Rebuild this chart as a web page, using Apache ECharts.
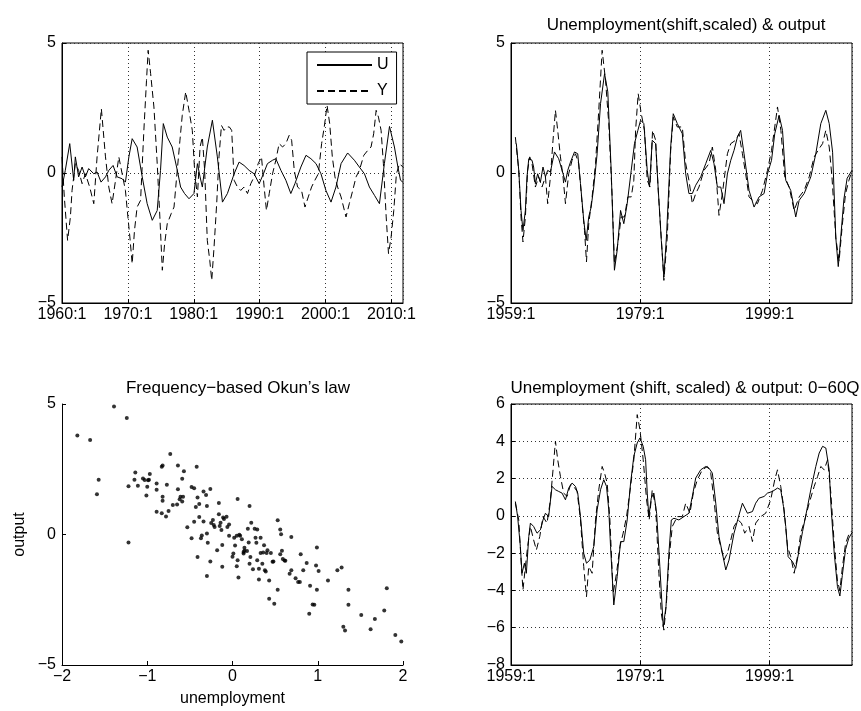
<!DOCTYPE html>
<html><head><meta charset="utf-8">
<script src="https://cdn.jsdelivr.net/npm/echarts@6/dist/echarts.min.js"></script>
<style>html,body{margin:0;padding:0;background:#fff}#c{width:861px;height:711px}</style>
</head><body><div id="c"></div>
<script>
// ---------- data (quarter index, value) ----------
// Top-left: quarter 0 = 1960:1
const tlTicks = ['1960:1','1970:1','1980:1','1990:1','2000:1','2010:1'];
const tlU = [[0,-0.54],[2,0.10],[4.7,1.13],[7.1,-0.28],[8.1,0.62],[10.1,-0.15],[12.2,0.23],[14.2,-0.15],[16.2,0.17],[19.3,-0.03],[21.3,0.04],[23.7,-0.35],[26.4,-0.15],[28.4,0.10],[31,0.29],[33.5,-0.15],[36.5,-0.22],[38.5,-0.35],[40.6,0.62],[42.6,1.32],[45.6,1.00],[48.7,-0.15],[51.7,-1.18],[54.8,-1.82],[57.8,-1.44],[59.8,0.10],[61.5,1.90],[63.9,1.38],[66.9,1.00],[70,0.10],[72,-0.54],[74.4,-0.79],[77.1,-0.99],[80.1,-0.79],[82.2,0.36],[83.8,-0.15],[85.2,-0.54],[88.2,1.00],[91.3,2.03],[94.3,0.62],[97.4,-1.12],[100.4,-0.79],[104.5,-0.03],[107.5,0.42],[110.5,0.29],[113.6,0.10],[116.6,-0.03],[119.7,-0.41],[122.3,-0.03],[124.7,0.36],[127.8,0.49],[129.8,0.55],[132.9,0.10],[135.9,-0.28],[138.9,-0.79],[141.4,-0.41],[145,0.23],[148.1,0.68],[151.1,0.55],[154.2,0.36],[157.2,-0.03],[160.2,-0.67],[163.3,-1.12],[166.3,-0.54],[169.4,0.36],[173.4,0.77],[177.5,0.49],[180.5,0.23],[183.6,-0.03],[186.6,-0.54],[189.7,-0.86],[192.7,-1.18],[195.7,0.36],[198.8,1.79],[201.8,1.00],[203.9,0.23],[205.5,-0.28],[206.9,-0.35]];
const tlY = [[0,0.62],[1.4,-0.92],[3.4,-2.59],[5.1,-1.69],[6.1,-0.67],[8.1,0.36],[10.1,0.10],[12.2,-0.41],[14.2,-0.03],[16.8,-0.54],[19.3,-1.18],[21.3,0.62],[23.9,2.47],[26.4,0.62],[28.4,-0.54],[30.4,-1.18],[32.5,-0.28],[34.5,0.62],[36.5,-0.03],[38.5,-0.67],[40,-1.69],[41.2,-2.46],[42.6,-3.49],[44,-2.21],[45.6,-1.31],[47.7,-1.05],[49.7,1.64],[51.3,3.56],[52.3,4.72],[53.8,3.82],[55.8,2.54],[57.8,0.36],[59.4,-1.69],[60.9,-3.74],[62.3,-2.72],[63.9,-1.95],[66.3,-1.56],[68,-1.31],[69.6,-0.15],[71.6,1.26],[73,2.22],[75.1,3.12],[77.1,2.41],[79.1,1.64],[80.5,0.10],[82.2,-0.92],[83.8,1.00],[85.2,1.38],[86.6,0.10],[88.2,-2.59],[89.7,-3.36],[90.9,-4.13],[92.3,-2.85],[93.9,-1.18],[95.3,0.62],[96.8,1.83],[98.4,1.64],[100,1.77],[101.6,1.77],[103,1.64],[104.5,-0.28],[106.5,-0.54],[108.5,-0.67],[110.5,-0.54],[112.6,-0.79],[114.6,-0.41],[116.6,-0.15],[119.1,0.36],[121.1,0.62],[122.7,-0.54],[124.1,-1.44],[125.8,-0.79],[127.8,-0.03],[129.8,0.49],[131.8,1.13],[133.9,1.00],[135.9,1.13],[137.9,1.45],[139.4,1.26],[141,0.10],[143,-0.54],[145.4,-0.67],[147.5,-1.31],[149.5,-0.92],[151.5,-0.54],[153.5,-0.28],[155.6,-0.03],[157.6,1.13],[159.2,1.77],[160.9,2.60],[162.5,1.90],[164.1,0.62],[165.7,-0.15],[167.3,-0.54],[169.4,-0.92],[172.4,-1.69],[174.4,-1.18],[176.5,-0.67],[178.5,-0.15],[180.5,0.10],[183.2,0.68],[185.6,0.87],[187.6,1.00],[189.2,1.51],[190.7,2.41],[192.1,2.15],[193.7,1.64],[195.1,0.36],[196.8,-1.69],[198.2,-3.10],[199.8,-2.46],[201.4,-1.44],[203,-0.03],[204.9,0.36],[206.9,0.23]];

// Top-right: quarter 0 = 1959:1
const rTicks = ['1959:1','1979:1','1999:1'];
const trU = [[3.3,1.13],[4.8,0.10],[6.2,-1.44],[7.4,-2.21],[8.9,-1.44],[9.9,-0.15],[11,0.55],[13,0.49],[14,0.23],[15.1,-0.41],[16.5,-0.03],[18.2,-0.35],[19.8,0.23],[21.3,-0.15],[22.7,0.10],[24.4,0.04],[26.9,0.81],[29.5,0.55],[31.6,0.10],[33.7,-0.35],[35.1,0.10],[36.8,0.42],[39.3,0.81],[41.3,0.74],[43,-0.41],[45,-1.82],[46.5,-2.59],[48.1,-1.69],[49.6,-1.31],[51.2,-0.54],[53.3,0.74],[55.4,2.67],[57.9,3.82],[59.9,3.12],[62,0.10],[64,-3.74],[65.7,-2.97],[67.8,-1.44],[69.8,-1.95],[71.9,-1.18],[74.4,0.10],[76.4,1.13],[78.5,1.64],[80.2,2.03],[82.2,1.90],[84.3,0.10],[85.7,-0.54],[87.4,1.26],[89.5,1.13],[90.9,-0.41],[93,-2.59],[94.6,-4.00],[96.3,-2.33],[98.8,1.00],[100.4,2.28],[102.9,1.90],[106,1.51],[108.1,-0.03],[110.1,-0.79],[112.2,-0.79],[114.3,-0.47],[117.4,-0.15],[120.5,0.36],[123.6,0.87],[125.6,0.36],[127.7,-0.54],[129.8,-0.54],[131.8,-1.18],[133.9,-0.03],[136,0.49],[138,0.87],[140.1,1.38],[142.1,1.64],[144.2,0.74],[147.3,-0.67],[150.4,-1.31],[153.5,-0.92],[156.6,-0.79],[158.7,-0.03],[161.2,0.49],[163.2,1.51],[165.9,2.22],[168,1.64],[170,-0.28],[173.1,-0.67],[176.2,-1.69],[178.3,-1.05],[181.4,-0.79],[185.5,-0.15],[188.6,0.74],[191.7,1.90],[194.8,2.41],[196.9,1.90],[199,0.80],[201,-2.5],[202.5,-3.6],[204,-2.5],[206,-1.0],[208,-0.2],[210,0.0],[211,0.1]];
const trY = [[2.7,1.38],[4.8,0.10],[6.2,-1.69],[7.4,-2.65],[8.9,-1.69],[10.3,0.10],[11.6,0.62],[13,0.36],[15.1,-0.54],[17.1,-0.15],[19.2,-0.54],[21.3,-0.15],[22.7,-1.18],[24.4,-0.15],[26,1.26],[27.5,2.41],[28.9,1.64],[30.6,0.62],[32.2,-0.15],[33.7,-1.18],[35.7,-0.03],[37.8,0.49],[39.9,0.74],[41.9,0.36],[44,-1.18],[45.5,-2.21],[46.7,-3.42],[48.1,-1.95],[50.2,-0.92],[52.3,0.36],[54.3,2.41],[56.4,4.72],[58.5,3.56],[60.5,1.90],[62.6,-0.92],[64,-3.49],[66.1,-2.72],[68.2,-1.69],[70.2,-1.69],[72.3,-0.92],[74.4,-0.92],[76,-0.28],[77.1,1.64],[78.7,3.05],[80.6,2.28],[82.6,1.64],[84.3,-0.28],[86,-0.54],[87.6,1.64],[89.5,1.26],[91.1,-0.67],[93.2,-2.72],[94.6,-4.13],[96.7,-2.46],[98.8,0.87],[100.4,2.15],[102.9,1.77],[106,1.77],[108.1,0.36],[110.1,-0.28],[112.2,-1.18],[114.3,-0.79],[116.3,-0.54],[119.4,0.10],[122.5,0.36],[124.6,1.00],[126.7,0.10],[128.7,-1.63],[130.8,-0.79],[133.9,0.74],[136,1.13],[139,1.26],[141.1,1.51],[143.2,0.74],[145.2,-0.03],[147.3,-0.92],[149.4,-1.05],[152.5,-1.18],[155.6,-0.67],[158.7,0.10],[161.2,0.87],[163.2,1.77],[164.9,2.54],[167,1.64],[169.4,-0.15],[172.1,-0.54],[175.2,-1.44],[178.3,-0.92],[181.4,-0.67],[184.5,-0.15],[187.6,0.62],[190.7,0.94],[192.8,1.13],[194.8,1.64],[196.9,1.00],[198.6,-0.15],[201,-2.5],[203,-3.4],[205,-2.0],[207,-0.8],[209,-0.3],[211,0.1]];

// Bottom-right: 0-60Q band
const brU = [[2.7,0.77],[4.1,-0.04],[5.8,-1.65],[6.8,-3.08],[8.3,-2.54],[9.5,-3.08],[11,-1.11],[12,-0.39],[14,-0.57],[16.1,-0.93],[18.2,-0.75],[19.8,-0.22],[21.3,0.14],[23.3,-0.04],[25.4,1.58],[27.5,1.40],[29.5,1.31],[31.6,1.22],[33.7,0.86],[35.7,1.49],[37.8,1.76],[39.9,1.58],[41.3,1.22],[43,-0.04],[45,-2.01],[46.7,-2.54],[48.8,-2.37],[51.2,-1.65],[53.3,0.32],[55.4,1.40],[57.4,1.94],[59.1,1.58],[60.5,0.32],[61.6,-1.65],[63.6,-4.78],[65.7,-3.26],[67.8,-1.38],[69.8,-1.38],[71.9,-0.22],[74,1.76],[76,3.19],[78.1,3.91],[79.8,4.18],[81.8,3.73],[83.3,3.01],[84.3,1.22],[85.3,-0.04],[86.8,0.95],[88.4,1.22],[90.1,0.14],[92.1,-2.72],[94.2,-5.95],[95.9,-4.87],[97.7,-2.01],[99.2,-0.22],[100.8,-0.13],[103.9,-0.22],[107,-0.04],[110.1,0.14],[112.2,1.04],[114.3,2.03],[117.4,2.47],[120.5,2.65],[122.5,2.56],[124.6,2.29],[126.7,0.68],[128.7,-1.11],[130.8,-2.01],[132.9,-2.90],[134.9,-2.37],[138,-0.93],[141.1,0.05],[143.2,0.68],[146.3,0.14],[149.4,0.23],[151.4,0.68],[153.5,0.95],[156.6,1.04],[158.7,1.22],[161.8,1.31],[164.9,1.49],[166.9,1.40],[168.6,0.50],[170,-0.57],[171.5,-2.19],[174.2,-2.46],[176.2,-2.81],[178.3,-1.83],[180.4,-0.84],[183.5,0.50],[185.5,1.40],[188.6,2.65],[190.7,3.37],[192.8,3.73],[194.8,3.64],[196.9,2.47],[197.9,0.68],[200,-2.0],[202,-3.8],[203.5,-4.3],[205,-3.2],[207,-1.8],[209,-1.2],[211,-0.9]];
const brY = [[2.7,0.68],[4.8,-0.22],[6.2,-2.37],[7.4,-3.98],[8.9,-2.72],[10.3,-1.65],[12,-0.57],[14,-1.29],[15.7,-1.83],[17.8,-1.11],[19.8,-0.04],[22.3,-0.39],[24.4,0.86],[26,2.47],[27.5,4.00],[28.9,3.01],[30.6,2.11],[32.6,1.22],[34.7,1.04],[36.8,1.67],[38.8,1.58],[40.9,1.31],[43,-0.22],[45,-2.72],[46.7,-4.34],[48.1,-2.72],[50.2,-3.08],[52.3,-0.22],[54.3,1.40],[56.4,2.65],[57.9,2.29],[59.5,1.76],[61.2,-0.22],[63.2,-4.16],[65.3,-3.08],[67.4,-1.65],[69.4,-0.93],[71.5,-0.04],[74,1.58],[76,3.01],[78.1,5.43],[79.8,4.62],[81.8,3.01],[83.9,0.86],[85.5,-0.22],[87.4,1.40],[89.5,0.50],[91.5,-3.08],[93,-5.23],[94.6,-6.13],[96.3,-4.52],[97.7,-2.37],[99.8,-0.57],[102.9,-0.04],[106,-0.04],[108.1,0.68],[110.7,0.14],[112.8,1.22],[115.3,1.94],[118.4,2.47],[121.5,2.65],[123.6,2.29],[125.6,0.86],[127.7,-0.93],[129.8,-1.65],[131.8,-2.37],[133.9,-2.01],[136,-1.29],[138,-0.57],[140.5,-0.22],[142.6,-0.39],[144.6,-0.93],[147.3,-0.57],[149.4,-1.38],[151.4,-0.39],[154.5,-0.04],[157.6,0.14],[160.7,0.86],[163.2,1.94],[164.9,2.47],[166.9,1.58],[169,0.32],[171.1,-1.65],[173.1,-2.19],[175.2,-3.08],[177.3,-2.19],[179.3,-0.93],[181.8,-0.22],[184.5,0.68],[187.6,1.58],[189.7,2.11],[191.7,2.65],[193.8,2.47],[195.9,3.01],[197.9,1.22],[200,-1.5],[202,-3.5],[203.5,-4.0],[205,-2.8],[207,-1.5],[209,-1.0],[211,-0.8]];

// Bottom-left scatter: [unemployment, output]
const okun = [[-1.82,3.79],[-1.67,3.62],[-1.39,4.90],[-1.24,4.46],[-1.57,2.10],[-1.59,1.54],[-1.22,-0.31],[-1.22,1.85],[-1.14,2.38],[-1.15,2.10],[-1.11,1.87],[-1.05,2.15],[-1.03,2.09],[-1.01,1.49],[-0.99,2.08],[-0.97,2.32],[-1.00,1.83],[-0.98,2.10],[-0.89,1.95],[-0.89,1.71],[-0.89,0.87],[-0.83,2.60],[-0.82,2.64],[-0.82,1.45],[-0.83,0.81],[-0.82,1.29],[-0.78,0.69],[-0.77,1.91],[-0.75,0.90],[-0.73,3.08],[-0.70,1.13],[-0.64,2.64],[-0.65,1.15],[-0.62,1.35],[-0.64,1.73],[-0.61,1.45],[-0.59,1.26],[-0.59,2.14],[-0.57,2.42],[-0.58,1.45],[-0.53,0.28],[-0.48,1.82],[-0.45,1.77],[-0.48,-0.14],[-0.45,0.49],[-0.42,2.60],[-0.43,1.05],[-0.41,1.42],[-0.41,-0.86],[-0.39,1.17],[-0.39,0.67],[-0.37,-0.14],[-0.36,-0.04],[-0.34,0.50],[-0.34,1.65],[-0.31,1.51],[-0.30,-1.59],[-0.30,1.09],[-0.30,0.04],[-0.29,-0.32],[-0.26,-1.03],[-0.26,1.74],[-0.25,0.44],[-0.22,0.36],[-0.23,0.56],[-0.21,0.29],[-0.18,-0.60],[-0.16,1.21],[-0.16,0.78],[-0.15,0.33],[-0.14,0.45],[-0.13,0.17],[-0.12,-0.40],[-0.12,-1.24],[-0.11,0.65],[-0.10,0.59],[-0.07,0.68],[-0.06,0.29],[-0.04,-0.05],[-0.04,0.38],[0.00,-0.85],[0.01,-0.73],[0.02,-0.12],[0.03,-0.42],[0.05,-0.05],[0.05,-1.22],[0.06,1.36],[0.06,-0.99],[0.07,-1.65],[0.08,-0.01],[0.09,-0.05],[0.11,-0.18],[0.13,-0.67],[0.13,-0.73],[0.14,-0.51],[0.14,-0.62],[0.17,-0.63],[0.18,0.22],[0.19,-0.31],[0.20,1.09],[0.20,-1.12],[0.21,-0.86],[0.22,0.45],[0.24,-1.33],[0.26,0.22],[0.27,-0.12],[0.28,-0.32],[0.29,0.19],[0.29,-0.99],[0.31,-1.72],[0.31,-1.31],[0.33,-0.12],[0.33,-0.71],[0.35,-1.12],[0.36,-0.69],[0.37,-0.41],[0.38,-1.37],[0.39,-1.42],[0.40,-0.71],[0.41,-0.60],[0.43,-1.76],[0.43,-2.46],[0.45,-0.71],[0.47,-1.04],[0.48,-1.03],[0.49,-2.65],[0.53,0.55],[0.53,-2.12],[0.56,0.19],[0.56,-0.76],[0.57,0.01],[0.58,-0.62],[0.59,-0.94],[0.61,-1.00],[0.62,-1.01],[0.67,-1.50],[0.69,-1.37],[0.69,-0.10],[0.74,-1.68],[0.77,-1.82],[0.79,-1.82],[0.80,-0.76],[0.83,-1.37],[0.87,-1.09],[0.90,-3.04],[0.91,-1.96],[0.94,-2.68],[0.96,-2.69],[0.98,-1.19],[0.99,-0.50],[0.99,-2.12],[1.01,-1.40],[1.12,-1.76],[1.23,-1.37],[1.28,-1.26],[1.30,-3.53],[1.32,-3.68],[1.36,-2.12],[1.36,-2.69],[1.51,-3.08],[1.62,-3.63],[1.67,-3.24],[1.78,-2.91],[1.81,-2.06],[1.91,-3.85],[1.98,-4.10]];

// ---------- chart ----------
const FONT = 'Liberation Sans, Arial, Helvetica, sans-serif';
const fmtNum = v => String(v).replace('-', '\u2212');
const black = '#000';
const dotted = {show: true, lineStyle: {color: '#333', type: [1, 3], width: 1}};
function qAxis(gridIndex, base, min, max, interval) {
  return {
    type: 'value', gridIndex, min, max, interval,
    axisLine: {show: true, onZero: false, lineStyle: {color: black, width: 1}},
    axisTick: {show: true, inside: true, length: 4, lineStyle: {color: black}},
    axisLabel: {color: black, fontFamily: FONT, fontSize: 16, margin: 4, showMaxLabel: false,
      formatter: v => (base + v / 4) + ':1'},
    splitLine: dotted
  };
}
function yAxis(gridIndex, min, max, interval, grid) {
  return {
    type: 'value', gridIndex, min, max, interval,
    axisLine: {show: true, onZero: false, lineStyle: {color: black, width: 1}},
    axisTick: {show: true, inside: true, length: 4, lineStyle: {color: black}},
    axisLabel: {color: black, fontFamily: FONT, fontSize: 16, margin: 6, formatter: fmtNum},
    splitLine: grid ? dotted : {show: false}
  };
}
const lineS = (name, x, y, data, dashed) => ({
  name, type: 'line', xAxisIndex: x, yAxisIndex: y, data, symbol: 'none', smooth: false,
  animation: false, lineStyle: {color: black, width: 1, type: dashed ? [7, 4] : 'solid'},
  itemStyle: {color: black}
});
const titleStyle = {color: black, fontFamily: FONT, fontSize: 17, fontWeight: 'normal'};

const chart = echarts.init(document.getElementById('c'), null, {renderer: 'canvas'});
chart.setOption({
  backgroundColor: '#fff',
  animation: false,
  title: [
    {text: 'Unemployment(shift,scaled) & output', left: 681, top: 12, textAlign: 'center', textStyle: titleStyle},
    {text: 'Frequency\u2212based Okun\u2019s law', left: 233, top: 375, textAlign: 'center', textStyle: titleStyle},
    {text: 'Unemployment (shift, scaled) & output: 0\u221260Q', left: 680, top: 375, textAlign: 'center', textStyle: titleStyle}
  ],
  legend: {
    show: true, left: 307, top: 52, orient: 'vertical',
    data: ['U', 'Y'], itemWidth: 55, itemHeight: 14, itemGap: 10,
    itemStyle: {opacity: 0},
    padding: [5, 8, 5, 9], borderColor: black, borderWidth: 1, backgroundColor: '#fff',
    textStyle: {color: black, fontFamily: FONT, fontSize: 16}
  },
  grid: [
    {left: 62, top: 43, width: 341, height: 260, show: true, borderColor: black, borderWidth: 1},
    {left: 511, top: 43, width: 341, height: 260, show: true, borderColor: black, borderWidth: 1},
    {left: 62, top: 404, width: 341, height: 261},
    {left: 511, top: 404, width: 341, height: 261, show: true, borderColor: black, borderWidth: 1}
  ],
  xAxis: [
    qAxis(0, 1960, 0, 207, 40),
    qAxis(1, 1959, 0, 211, 80),
    {type: 'value', gridIndex: 2, min: -2, max: 2, interval: 1,
      name: 'unemployment', nameLocation: 'middle', nameGap: 26,
      nameTextStyle: {color: black, fontFamily: FONT, fontSize: 16},
      axisLine: {show: true, onZero: false, lineStyle: {color: black}},
      axisTick: {show: true, inside: true, length: 4, lineStyle: {color: black}},
      axisLabel: {color: black, fontFamily: FONT, fontSize: 16, margin: 4, formatter: fmtNum},
      splitLine: {show: false}},
    qAxis(3, 1959, 0, 211, 80)
  ],
  yAxis: [
    yAxis(0, -5, 5, 5, true),
    yAxis(1, -5, 5, 5, true),
    Object.assign(yAxis(2, -5, 5, 5, false), {name: 'output', nameLocation: 'middle', nameGap: 34, nameRotate: 90,
      nameTextStyle: {color: black, fontFamily: FONT, fontSize: 16}}),
    yAxis(3, -8, 6, 2, true)
  ],
  series: [
    lineS('U', 0, 0, tlU, false),
    lineS('Y', 0, 0, tlY, true),
    lineS('Ushift', 1, 1, trU, false),
    lineS('Yout', 1, 1, trY, true),
    {type: 'scatter', xAxisIndex: 2, yAxisIndex: 2, data: okun, symbol: 'circle', symbolSize: 4,
      itemStyle: {color: black}, animation: false},
    lineS('Uband', 3, 3, brU, false),
    lineS('Yband', 3, 3, brY, true)
  ]
});
</script></body></html>
